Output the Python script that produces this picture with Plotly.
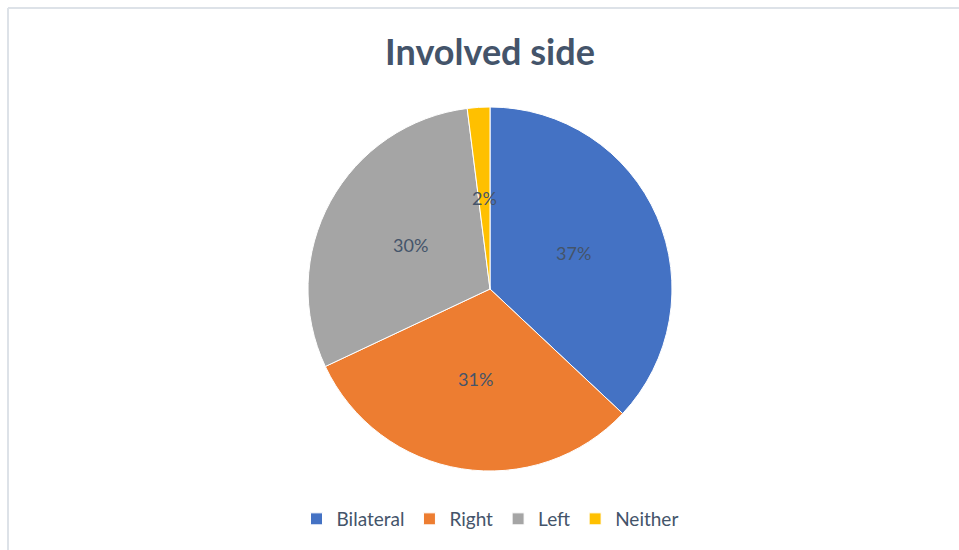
import math
import plotly.graph_objects as go

# Involved side distribution (percent)
sides = ["Bilateral", "Right", "Left", "Neither"]
shares = [37, 31, 30, 2]
slice_colors = ["#4472C4", "#ED7D31", "#A5A5A5", "#FFC000"]

W, H = 959, 550
cx, cy, radius = 490, 289, 182  # pie centre and radius in pixels
FONT = "Lato, Open Sans, sans-serif"
TEXT_COLOR = "#44546A"

fig = go.Figure()
fig.add_trace(go.Pie(
    labels=sides,
    values=shares,
    sort=False,
    direction="clockwise",
    rotation=0,
    marker=dict(colors=slice_colors, line=dict(color="white", width=1)),
    textinfo="none",
    hoverinfo="label+percent",
    domain=dict(x=[(cx - radius) / W, (cx + radius) / W],
                y=[1 - (cy + radius) / H, 1 - (cy - radius) / H]),
))

# Percentage labels placed halfway out along each slice's mid angle
total = sum(shares)
annotations = []
acc = 0
for name, v in zip(sides, shares):
    mid = (acc + v / 2) / total * 2 * math.pi
    acc += v
    px = cx + 0.5 * radius * math.sin(mid)
    py = cy - 0.5 * radius * math.cos(mid)
    annotations.append(dict(
        x=px / W, y=1 - py / H, xref="paper", yref="paper",
        xanchor="center", yanchor="middle",
        text=f"{round(v / total * 100)}%", showarrow=False,
        font=dict(family=FONT, size=18, color=TEXT_COLOR),
    ))

fig.update_layout(
    width=W, height=H,
    margin=dict(l=0, r=0, t=0, b=0),
    paper_bgcolor="white",
    plot_bgcolor="white",
    title=dict(text="<b>Involved side</b>", x=490 / W, xanchor="center",
               y=1 - 52 / H, yanchor="middle",
               font=dict(family=FONT, size=36, color=TEXT_COLOR)),
    legend=dict(orientation="h", x=490 / W, xanchor="center",
                y=1 - 519 / H, yanchor="middle",
                font=dict(family=FONT, size=19, color=TEXT_COLOR),
                itemwidth=30, tracegroupgap=0),
    annotations=annotations,
    shapes=[
        dict(type="line", xref="paper", yref="paper", x0=8 / W, x1=1, y0=1 - 8 / H, y1=1 - 8 / H,
             line=dict(color="#DDE2E8", width=2)),
        dict(type="line", xref="paper", yref="paper", x0=8 / W, x1=8 / W, y0=0, y1=1 - 8 / H,
             line=dict(color="#DDE2E8", width=2)),
    ],
)

fig.write_html("out.html")
